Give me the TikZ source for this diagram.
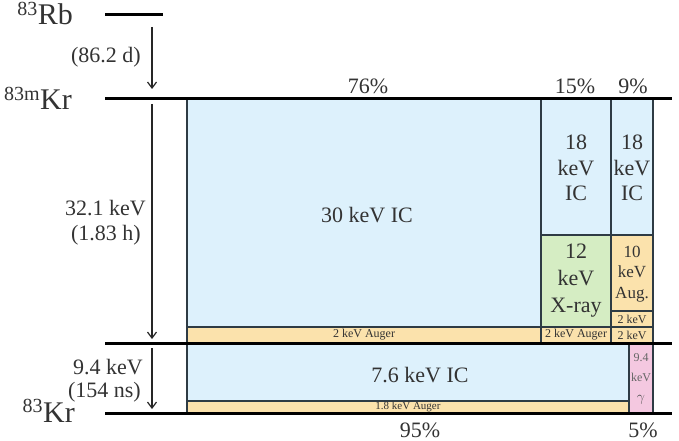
\documentclass[tikz,border=0pt]{standalone}
\usepackage{fontspec}
\setmainfont{Liberation Serif}
\usetikzlibrary{arrows.meta}
\definecolor{icblue}{HTML}{DDF1FC}
\definecolor{auger}{HTML}{FBE2AC}
\definecolor{xray}{HTML}{D5EDC3}
\definecolor{gam}{HTML}{F4C8E0}
\definecolor{edge}{HTML}{2E3B44}
\definecolor{ink}{HTML}{333333}
\begin{document}
\begin{tikzpicture}[x=1pt,y=-1pt,
  box/.style={draw=edge, line width=1.2pt},
  level/.style={line width=3pt, black},
  decay/.style={-{Straight Barb[length=6pt,width=9pt]}, line width=1.2pt, black!85},
  big/.style={font=\fontsize{22}{25.5}\selectfont, text=ink, inner sep=0pt},
  mid/.style={font=\fontsize{17}{20.5}\selectfont, text=ink, inner sep=0pt},
  small/.style={font=\fontsize{12}{14}\selectfont, text=ink, inner sep=0pt},
  tiny/.style={font=\fontsize{11}{12}\selectfont, text=ink, inner sep=0pt},
  nuc/.style={font=\fontsize{30}{34}\selectfont, text=ink, inner sep=0pt, anchor=base east}]
\useasboundingbox (0,0) rectangle (679,441);
% boxes
\filldraw[box, fill=icblue] (187,99) rectangle (541,327);
\filldraw[box, fill=auger] (187,327) rectangle (541,343);
\filldraw[box, fill=icblue] (541,99) rectangle (611,235);
\filldraw[box, fill=xray] (541,235) rectangle (611,327);
\filldraw[box, fill=auger] (541,327) rectangle (611,343);
\filldraw[box, fill=icblue] (611,99) rectangle (653,235);
\filldraw[box, fill=auger] (611,235) rectangle (653,311);
\filldraw[box, fill=auger] (611,311) rectangle (653,327);
\filldraw[box, fill=auger] (611,327) rectangle (653,343);
\filldraw[box, fill=icblue] (187,343) rectangle (629,401);
\filldraw[box, fill=auger] (187,401) rectangle (629,413);
\filldraw[box, fill=gam] (629,343) rectangle (653,413);
% levels
\coordinate (rbL) at (105,15); \coordinate (rbR) at (163,15);
\coordinate (kmL) at (105,99); \coordinate (kmR) at (672,99);
\coordinate (kiL) at (105,343); \coordinate (kiR) at (672,343);
\coordinate (kgL) at (105,413); \coordinate (kgR) at (672,413);
\draw[level] (rbL) -- (rbR);
\draw[level] (kmL) -- (kmR);
\draw[level] (kiL) -- (kiR);
\draw[level] (kgL) -- (kgR);
% decay arrows
\coordinate (a1s) at (152,27); \coordinate (a1e) at (152,89);
\coordinate (a2s) at (152,104); \coordinate (a2e) at (152,339);
\coordinate (a3s) at (152,348); \coordinate (a3e) at (152,409);
\draw[decay] (a1s) -- (a1e);
\draw[decay] (a2s) -- (a2e);
\draw[decay] (a3s) -- (a3e);
% nuclide labels
\node[nuc] (rb) at (73,25) {\textsuperscript{\fontsize{20}{20}\selectfont 83}Rb};
\node[nuc] (krm) at (72,110) {\textsuperscript{\fontsize{20}{20}\selectfont 83m}Kr};
\node[nuc] (kr) at (75,422) {\textsuperscript{\fontsize{20}{20}\selectfont 83}Kr};
% left labels
\node[big, anchor=east] (t1) at (141,57) {(86.2 d)};
\node[big, anchor=east] (t2a) at (146,208) {32.1 keV};
\node[big, anchor=east] (t2b) at (141,235) {(1.83 h)};
\node[big, anchor=east] (t3a) at (143,367) {9.4 keV};
\node[big, anchor=east] (t3b) at (141,392) {(154 ns)};
% percentages
\node[big] (p76) at (368,86) {76\%};
\node[big] (p15) at (575,86) {15\%};
\node[big] (p9) at (633,86) {9\%};
\node[big] (p95) at (420,430) {95\%};
\node[big] (p5) at (643,430) {5\%};
% box texts
\node[big] (ic30) at (367,215) {30 keV IC};
\node[big, align=center] (ic18a) at (576,168) {18\\keV\\IC};
\node[big, align=center] (ic18b) at (632,168) {18\\keV\\IC};
\node[big, align=center, font=\fontsize{22}{27}\selectfont] (xr) at (576,281) {12\\keV\\X-ray};
\node[mid, align=center] (au10) at (632,274) {10\\keV\\Aug.};
\node[small] (au2a) at (632,319) {2 keV};
\node[small] (au2b) at (632,335) {2 keV};
\node[small] (au2c) at (576,335) {2 keV Auger};
\node[small] (au2d) at (364,335) {2 keV Auger};
\node[big] (ic76) at (420,375) {7.6 keV IC};
\node[tiny] (au18) at (408,407) {1.8 keV Auger};
\node[small, text=ink!75] (g1) at (641,358) {9.4};
\node[small, text=ink!75] (g2) at (641,377) {keV};
\node[font=\fontsize{15}{15}\selectfont, text=ink!85, inner sep=0pt] (g3) at (641,400) {$\gamma$};
\end{tikzpicture}
\end{document}
